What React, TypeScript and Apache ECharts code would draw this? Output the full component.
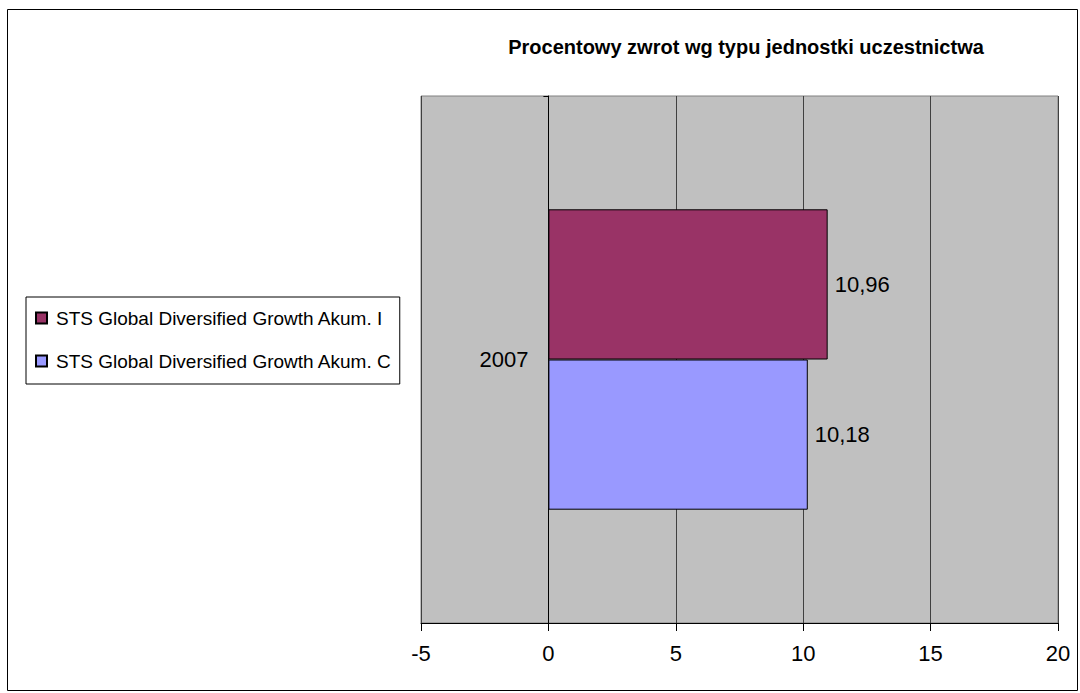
import React, { useEffect, useRef } from 'react';
import * as echarts from 'echarts';

const categories = ['2007'];
const seriesNames = ['STS Global Diversified Growth Akum. I', 'STS Global Diversified Growth Akum. C'];
const valuesI = [10.96];
const valuesC = [10.18];
const xMin = -5;
const xMax = 20;
const xInterval = 5;
const titleText = 'Procentowy zwrot wg typu jednostki uczestnictwa';
const seriesColors = ['#993366', '#9999FF'];

const FONT = '"Liberation Sans", Arial, sans-serif';

export default function App() {
  const ref = useRef<HTMLDivElement>(null);
  useEffect(() => {
    if (!ref.current) return;
    const chart = echarts.init(ref.current, undefined, { renderer: 'svg' });
    const fmt = (p: any) => Number(p.value).toFixed(2).replace('.', ',');
    const labelCfg = {
      show: true,
      position: 'right',
      distance: 7,
      formatter: fmt,
      color: '#000',
      fontSize: 22,
      fontFamily: FONT,
    };
    const gridLeft = 421;
    const gridRight = 22;
    const plotWidth = 1080 - gridLeft - gridRight;
    const zeroOffset = (plotWidth * (0 - xMin)) / (xMax - xMin);
    chart.setOption({
      animation: false,
      backgroundColor: '#ffffff',
      textStyle: { fontFamily: FONT },
      title: {
        text: titleText,
        left: 746,
        top: 37,
        padding: 0,
        textAlign: 'center',
        textStyle: { fontSize: 20, fontWeight: 'bold', color: '#000', fontFamily: FONT },
      },
      legend: {
        orient: 'vertical',
        left: 26,
        top: 297,
        padding: [10, 8, 12, 9],
        itemGap: 21,
        itemWidth: 11,
        itemHeight: 11,
        icon: 'rect',
        borderColor: '#000',
        borderWidth: 1,
        data: seriesNames,
        textStyle: { fontSize: 19, lineHeight: 22, color: '#000', fontFamily: FONT, padding: [0, 0, 0, 4] },
      },
      grid: {
        show: true,
        left: gridLeft,
        right: gridRight,
        top: 96,
        bottom: 70,
        backgroundColor: '#C0C0C0',
        borderColor: '#808080',
        borderWidth: 1,
      },
      xAxis: {
        type: 'value',
        min: xMin,
        max: xMax,
        interval: xInterval,
        axisLine: { show: true, onZero: false, lineStyle: { color: '#000', width: 1 } },
        axisTick: { show: true, length: 8, lineStyle: { color: '#000' } },
        splitLine: { show: true, lineStyle: { color: '#404040', width: 1 } },
        axisLabel: { fontSize: 22, color: '#000', margin: 19, fontFamily: FONT },
      },
      yAxis: {
        type: 'category',
        data: categories,
        offset: -zeroOffset,
        axisLine: { show: true, onZero: false, lineStyle: { color: '#000', width: 1 } },
        axisTick: { show: true, length: 5, lineStyle: { color: '#000' } },
        splitLine: { show: false },
        axisLabel: { fontSize: 22, color: '#000', margin: 20, fontFamily: FONT },
      },
      series: [
        {
          name: seriesNames[0],
          type: 'bar',
          data: valuesI,
          barGap: '0%',
          barCategoryGap: '43%',
          itemStyle: { color: seriesColors[0], borderColor: '#000', borderWidth: 1 },
          label: labelCfg,
        },
        {
          name: seriesNames[1],
          type: 'bar',
          data: valuesC,
          barGap: '0%',
          barCategoryGap: '43%',
          itemStyle: { color: seriesColors[1], borderColor: '#000', borderWidth: 1 },
          label: labelCfg,
        },
      ],
      graphic: [
        {
          type: 'rect',
          silent: true,
          z: -1,
          shape: { x: 7.5, y: 9.5, width: 1070, height: 681 },
          style: { fill: 'none', stroke: '#000', lineWidth: 1 },
        },
      ],
    });
    return () => chart.dispose();
  }, []);
  return (
    <div
      ref={ref}
      style={{ position: 'absolute', left: 0, top: 0, width: 1080, height: 693 }}
    />
  );
}
